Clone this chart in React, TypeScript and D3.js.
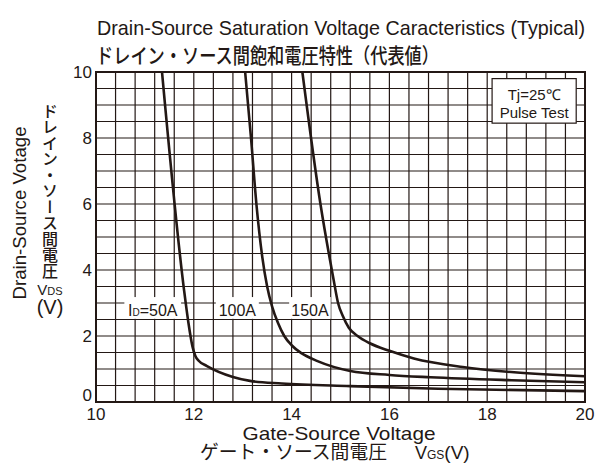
import React, { useEffect, useRef } from "react";
import * as d3 from "d3";

// axis ranges and ticks
const X_DOMAIN = [10, 20];
const Y_DOMAIN = [0, 10];
const X_TICKS = [10, 12, 14, 16, 18, 20];
const Y_TICKS = [0, 2, 4, 6, 8, 10];
const X_GRID_STEP = 0.4;
const Y_GRID_STEP = 0.5;

// ID = 50A
const VGS_50A = [11.35, 11.8, 11.89, 11.97, 12.03, 12.1, 12.27, 12.8, 13.15, 13.8, 15.2, 17, 20];
const VDS_50A = [10, 3.4, 2.4, 1.7, 1.4, 1.25, 1.09, 0.76, 0.64, 0.56, 0.48, 0.4, 0.33];

// ID = 100A
const VGS_100A = [13.05, 13.17, 13.28, 13.4, 13.5, 13.6, 13.72, 13.85, 14.0, 14.2, 14.53, 15.2, 16, 16.84, 18.5, 20];
const VDS_100A = [10, 8, 6, 4.4, 3.5, 2.9, 2.4, 2.0, 1.72, 1.48, 1.24, 0.94, 0.82, 0.75, 0.66, 0.6];

// ID = 150A
const VGS_150A = [14.22, 14.59, 14.86, 14.95, 15.05, 15.17, 15.35, 15.6, 16, 16.5, 17.5, 18.55, 20];
const VDS_150A = [10, 6, 3.7, 3.0, 2.6, 2.25, 2.0, 1.78, 1.55, 1.32, 1.06, 0.9, 0.78];

const SERIES = [
  { name: "50A", vgs: VGS_50A, vds: VDS_50A },
  { name: "100A", vgs: VGS_100A, vds: VDS_100A },
  { name: "150A", vgs: VGS_150A, vds: VDS_150A },
];

const INK = "#231815";
const LATIN = "'Liberation Sans', Arial, sans-serif";
const CJK = "'Noto Sans CJK JP', sans-serif";

export default function App() {
  const ref = useRef<SVGSVGElement | null>(null);

  useEffect(() => {
    const svg = d3.select(ref.current);
    svg.selectAll("*").remove();

    const margin = { top: 72, right: 13, bottom: 61, left: 96 };
    const W = 598;
    const H = 463;
    const width = W - margin.left - margin.right;
    const height = H - margin.top - margin.bottom;

    const x = d3.scaleLinear().domain(X_DOMAIN).range([0, width]);
    const y = d3.scaleLinear().domain(Y_DOMAIN).range([height, 0]);

    svg.append("rect").attr("width", W).attr("height", H).attr("fill", "#fff");

    const g = svg.append("g").attr("transform", `translate(${margin.left},${margin.top})`);

    // GRID
    const xs = d3.range(X_DOMAIN[0], X_DOMAIN[1] + 1e-6, X_GRID_STEP);
    const ys = d3.range(Y_DOMAIN[0], Y_DOMAIN[1] + 1e-6, Y_GRID_STEP);
    g.selectAll(".vg")
      .data(xs)
      .enter()
      .append("line")
      .attr("x1", d => x(d))
      .attr("x2", d => x(d))
      .attr("y1", 0)
      .attr("y2", height)
      .attr("stroke", INK)
      .attr("stroke-width", 1.2);
    g.selectAll(".hg")
      .data(ys)
      .enter()
      .append("line")
      .attr("y1", d => y(d))
      .attr("y2", d => y(d))
      .attr("x1", 0)
      .attr("x2", width)
      .attr("stroke", INK)
      .attr("stroke-width", 1.2);

    // legend box (Tj / Pulse Test)
    const lb = g.append("g");
    lb.append("rect")
      .attr("x", x(18.1))
      .attr("y", y(9.8))
      .attr("width", x(19.82) - x(18.1))
      .attr("height", y(8.45) - y(9.8))
      .attr("fill", "#fff")
      .attr("stroke", INK)
      .attr("stroke-width", 1.2);
    lb.append("text")
      .attr("x", x(18.96))
      .attr("y", y(9.15))
      .attr("text-anchor", "middle")
      .attr("font-family", LATIN)
      .attr("font-size", 15)
      .attr("fill", INK)
      .text("Tj=25℃");
    lb.append("text")
      .attr("x", x(18.96))
      .attr("y", y(8.45) - 5)
      .attr("text-anchor", "middle")
      .attr("font-family", LATIN)
      .attr("font-size", 15)
      .attr("fill", INK)
      .text("Pulse Test");

    // curve labels with white boxes
    const labels = [
      { x0: 10.58, x1: 11.74, prefix: true, text: "=50A" },
      { x0: 12.45, x1: 13.33, prefix: false, text: "100A" },
      { x0: 13.95, x1: 14.8, prefix: false, text: "150A" },
    ];
    labels.forEach(l => {
      g.append("rect")
        .attr("x", x(l.x0))
        .attr("y", y(3.18))
        .attr("width", x(l.x1) - x(l.x0))
        .attr("height", y(2.52) - y(3.18))
        .attr("fill", "#fff");
      const t = g.append("text")
        .attr("x", (x(l.x0) + x(l.x1)) / 2)
        .attr("y", y(2.62))
        .attr("text-anchor", "middle")
        .attr("font-family", LATIN)
        .attr("font-size", 16)
        .attr("fill", INK);
      if (l.prefix) {
        t.append("tspan").text("I");
        t.append("tspan").attr("font-size", 10).text("D");
      }
      t.append("tspan").text(l.text);
    });

    // CURVES
    const line = d3
      .line<[number, number]>()
      .x(d => x(d[0]))
      .y(d => y(d[1]))
      .curve(d3.curveMonotoneX);

    SERIES.forEach(s => {
      const pts: [number, number][] = s.vgs.map((v, i) => [v, s.vds[i]]);
      g.append("path")
        .attr("d", line(pts))
        .attr("fill", "none")
        .attr("stroke", INK)
        .attr("stroke-width", 2.6)
        .attr("stroke-linejoin", "round");
    });

    // FRAME
    g.append("rect")
      .attr("width", width)
      .attr("height", height)
      .attr("fill", "none")
      .attr("stroke", INK)
      .attr("stroke-width", 2);

    // TICK LABELS
    g.selectAll(".xt")
      .data(X_TICKS)
      .enter()
      .append("text")
      .attr("x", d => x(d))
      .attr("y", height + 18)
      .attr("text-anchor", "middle")
      .attr("font-family", LATIN)
      .attr("font-size", 17)
      .attr("fill", INK)
      .text(d => d);

    g.selectAll(".yt")
      .data(Y_TICKS)
      .enter()
      .append("text")
      .attr("x", -4)
      .attr("y", d => y(d) + (d === 0 ? -1 : 6))
      .attr("text-anchor", "end")
      .attr("font-family", LATIN)
      .attr("font-size", 17)
      .attr("fill", INK)
      .text(d => d);

    // TITLE
    svg.append("text")
      .attr("x", 97)
      .attr("y", 35)
      .attr("font-family", LATIN)
      .attr("font-size", 21)
      .attr("textLength", 488)
      .attr("lengthAdjust", "spacingAndGlyphs")
      .attr("fill", INK)
      .text("Drain-Source Saturation Voltage Caracteristics (Typical)");

    svg.append("text")
      .attr("x", 96)
      .attr("y", 63)
      .attr("font-family", CJK)
      .attr("font-weight", 500)
      .attr("font-size", 21)
      .attr("textLength", 343)
      .attr("lengthAdjust", "spacingAndGlyphs")
      .attr("fill", INK)
      .text("ドレイン・ソース間飽和電圧特性（代表値）");

    // X AXIS TITLE
    svg.append("text")
      .attr("x", 339)
      .attr("y", 440)
      .attr("text-anchor", "middle")
      .attr("font-family", LATIN)
      .attr("font-size", 19)
      .attr("textLength", 193)
      .attr("lengthAdjust", "spacingAndGlyphs")
      .attr("fill", INK)
      .text("Gate-Source Voltage");

    svg.append("text")
      .attr("x", 200)
      .attr("y", 459)
      .attr("font-family", CJK)
      .attr("font-size", 19)
      .attr("textLength", 187)
      .attr("lengthAdjust", "spacingAndGlyphs")
      .attr("fill", INK)
      .text("ゲート・ソース間電圧");

    const vgs = svg.append("text")
      .attr("x", 415)
      .attr("y", 459)
      .attr("font-family", LATIN)
      .attr("font-size", 18)
      .attr("fill", INK);
    vgs.append("tspan").text("V");
    vgs.append("tspan").attr("font-size", 12).text("GS");
    vgs.append("tspan").attr("font-size", 19).text("(V)");

    // Y AXIS TITLE
    svg.append("text")
      .attr("transform", "translate(26,213) rotate(-90)")
      .attr("text-anchor", "middle")
      .attr("font-family", LATIN)
      .attr("font-size", 19)
      .attr("textLength", 173)
      .attr("lengthAdjust", "spacingAndGlyphs")
      .attr("fill", INK)
      .text("Drain-Source Votage");

    svg.append("text")
      .attr("x", 50)
      .attr("y", 103)
      .attr("font-family", CJK)
      .attr("font-weight", 500)
      .attr("font-size", 16)
      .style("writing-mode", "vertical-rl")
      .attr("fill", INK)
      .text("ドレイン・ソース間電圧");

    const vds = svg.append("text")
      .attr("x", 50)
      .attr("y", 295)
      .attr("text-anchor", "middle")
      .attr("font-family", LATIN)
      .attr("font-size", 15)
      .attr("fill", INK);
    vds.append("tspan").text("V");
    vds.append("tspan").attr("font-size", 11).text("DS");

    svg.append("text")
      .attr("x", 50)
      .attr("y", 314)
      .attr("text-anchor", "middle")
      .attr("font-family", LATIN)
      .attr("font-size", 20)
      .attr("fill", INK)
      .text("(V)");
  }, []);

  return (
    <svg
      ref={ref}
      width={598}
      height={463}
      style={{ position: "absolute", left: 0, top: 0 }}
    />
  );
}
